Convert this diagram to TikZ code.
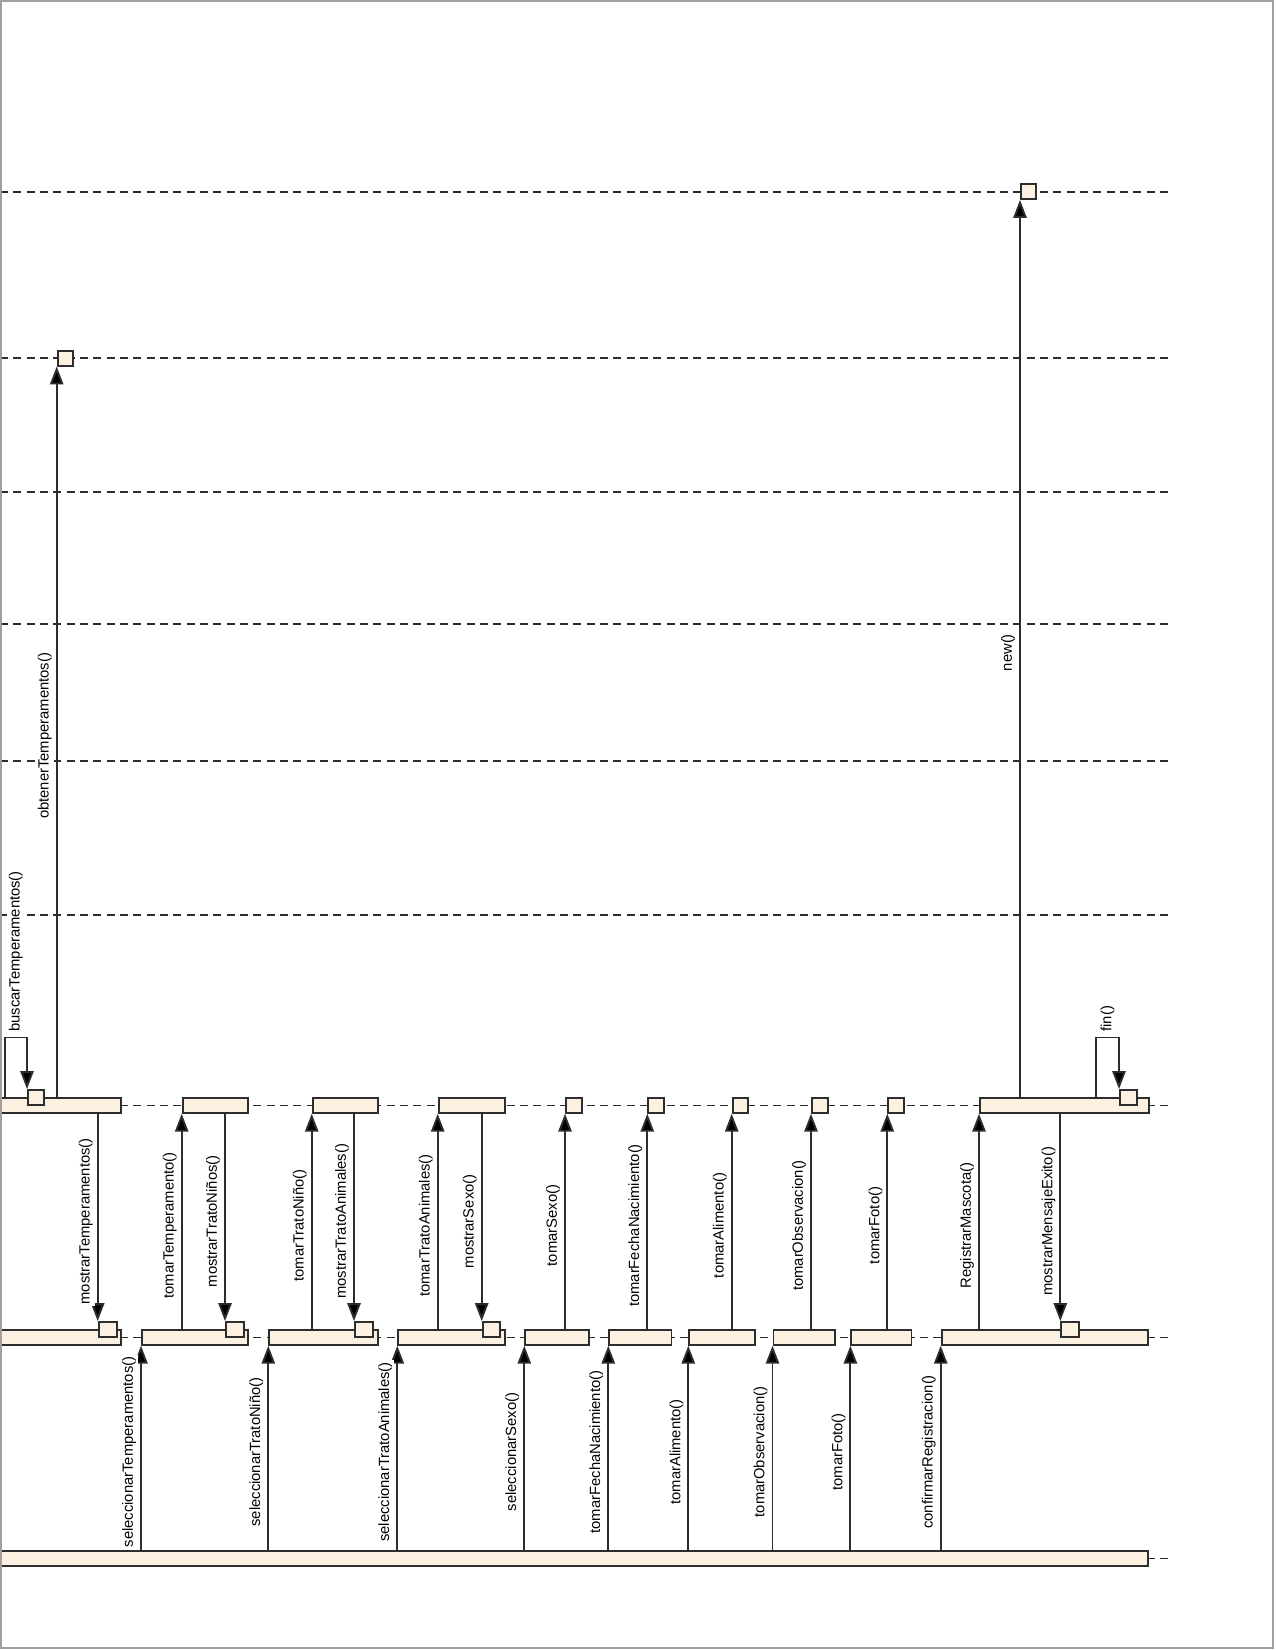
\documentclass[tikz,border=0pt]{standalone}
\usepackage{fontspec}
\setmainfont{Liberation Sans}
\usetikzlibrary{arrows.meta,positioning}
\definecolor{barfill}{RGB}{252,241,224}
\definecolor{ink}{RGB}{45,45,45}
\definecolor{framegray}{RGB}{160,160,160}
\newcommand{\lblfont}{\fontsize{7.1}{8.5}\selectfont}
\tikzset{
  lifeline/.style={draw=ink,line width=0.9pt,dash pattern=on 3.9pt off 2.5pt},
  actbar/.style={draw=ink,fill=barfill,line width=0.9pt,rectangle,inner sep=0pt,minimum height=7pt},
  bw/.style={minimum width=#1*0.48pt},
  msg/.style={draw=ink,line width=0.9pt,-{Triangle[length=8.6pt,width=6.4pt,fill=black]}},
  lbl/.style={yshift=-1.9pt,rotate=90,anchor=south,fill=white,inner sep=1pt,outer sep=1.4pt,font=\lblfont},
  looplbl/.style={rotate=90,anchor=west,fill=white,inner sep=1pt,outer sep=1.9pt,font=\lblfont}
}
\begin{document}
\begin{tikzpicture}[x=0.48pt,y=-0.48pt]
\useasboundingbox (0,0) rectangle (1275,1650);
\begin{scope}
\clip (1,1) rectangle (1273,1648);
% lifelines
\foreach \ly in {191.7,358.3,492,624,760.6,915.3,1105.5,1337.5,1558.5}{
  \draw[lifeline] (0,\ly) -- (1173,\ly);
}
% top objects
\node[actbar,bw=15.3,anchor=west] (newsq) at (1020,191.7) {};
\node[actbar,bw=15.6,anchor=west] (obtsq) at (56.7,358.3) {};
% upper row of activations
\node[actbar,bw=130,anchor=west] (A) at (-10,1105.5) {};
\node[actbar,bw=65.6,anchor=west] (B) at (181.7,1105.5) {};
\node[actbar,bw=65,anchor=west] (C) at (311.7,1105.5) {};
\node[actbar,bw=66.6,anchor=west] (D) at (437.7,1105.5) {};
\node[actbar,bw=15.7,anchor=west] (E) at (565,1105.5) {};
\node[actbar,bw=16,anchor=west] (Fn) at (647.3,1105.5) {};
\node[actbar,bw=15.6,anchor=west] (Al) at (731.7,1105.5) {};
\node[actbar,bw=15.7,anchor=west] (Ob) at (811,1105.5) {};
\node[actbar,bw=16,anchor=west] (Fo) at (887.3,1105.5) {};
\node[actbar,bw=168.7,anchor=west] (F) at (979,1105.5) {};
\node[actbar,bw=16,anchor=south west] (sqA) at (27,1105.5) {};
\node[actbar,bw=16.7,anchor=south west] (sqF) at (1119,1105.5) {};
% middle row of activations
\node[actbar,bw=130,anchor=west] (M1) at (-10,1337.5) {};
\node[actbar,bw=106.3,anchor=west] (M2) at (141,1337.5) {};
\node[actbar,bw=108.4,anchor=west] (M3) at (268.3,1337.5) {};
\node[actbar,bw=106.7,anchor=west] (M4) at (397.3,1337.5) {};
\node[actbar,bw=64,anchor=west] (M5) at (524.3,1337.5) {};
\node[actbar,bw=62.2,anchor=west] (M6) at (608.3,1337.5) {};
\node[actbar,bw=65.9,anchor=west] (M7) at (688.3,1337.5) {};
\node[actbar,bw=61.5,anchor=west] (M8) at (772.5,1337.5) {};
\node[actbar,bw=60.1,anchor=west] (M9) at (850.4,1337.5) {};
\node[actbar,bw=206.6,anchor=west] (M10) at (940.7,1337.5) {};
\node[actbar,bw=18,anchor=south west] (q1) at (97.7,1337.5) {};
\node[actbar,bw=18.3,anchor=south west] (q2) at (225,1337.5) {};
\node[actbar,bw=18.3,anchor=south west] (q3) at (354,1337.5) {};
\node[actbar,bw=17.6,anchor=south west] (q4) at (481.7,1337.5) {};
\node[actbar,bw=18,anchor=south west] (q10) at (1060.3,1337.5) {};
% bottom activation
\node[actbar,bw=1157.3,anchor=west] (bot) at (-10,1558.5) {};

% self calls
\coordinate (lpA) at (4.7,1037.5);
\draw[msg] (lpA |- A.north) -- (lpA) -| (sqA.north west) node[looplbl,pos=0.25]{buscarTemperamentos()};
\coordinate (lpF) at (1096,1037.5);
\draw[msg] (lpF |- F.north) -- (lpF) -| (sqF.north west) node[looplbl,pos=0.25]{fin()};

% long calls
\draw[msg] (obtsq.south west |- A.north) -- (obtsq.south west) node[lbl,midway]{obtenerTemperamentos()};
\draw[msg] (newsq.south west |- F.north) -- (newsq.south west) node[lbl,midway]{new()};

% upper band
\draw[msg] (q1.north west |- A.south) -- (q1.north west) node[lbl,midway]{mostrarTemperamentos()};
\draw[msg] (B.south west |- M2.north) -- (B.south west) node[lbl,midway]{tomarTemperamento()};
\draw[msg] (q2.north west |- B.south) -- (q2.north west) node[lbl,midway]{mostrarTratoNiños()};
\draw[msg] (C.south west |- M3.north) -- (C.south west) node[lbl,midway]{tomarTratoNiño()};
\draw[msg] (q3.north west |- C.south) -- (q3.north west) node[lbl,midway]{mostrarTratoAnimales()};
\draw[msg] (D.south west |- M4.north) -- (D.south west) node[lbl,midway]{tomarTratoAnimales()};
\draw[msg] (q4.north west |- D.south) -- (q4.north west) node[lbl,midway]{mostrarSexo()};
\draw[msg] (E.south west |- M5.north) -- (E.south west) node[lbl,midway]{tomarSexo()};
\draw[msg] (Fn.south west |- M6.north) -- (Fn.south west) node[lbl,midway]{tomarFechaNacimiento()};
\draw[msg] (Al.south west |- M7.north) -- (Al.south west) node[lbl,midway]{tomarAlimento()};
\draw[msg] (Ob.south west |- M8.north) -- (Ob.south west) node[lbl,midway]{tomarObservacion()};
\draw[msg] (Fo.south west |- M9.north) -- (Fo.south west) node[lbl,midway]{tomarFoto()};
\draw[msg] (F.south west |- M10.north) -- (F.south west) node[lbl,midway]{RegistrarMascota()};
\draw[msg] (q10.north west |- F.south) -- (q10.north west) node[lbl,midway]{mostrarMensajeExito()};

% lower band
\draw[msg] (M2.south west |- bot.north) -- (M2.south west) node[lbl,midway]{seleccionarTemperamentos()};
\draw[msg] (M3.south west |- bot.north) -- (M3.south west) node[lbl,midway]{seleccionarTratoNiño()};
\draw[msg] (M4.south west |- bot.north) -- (M4.south west) node[lbl,midway]{seleccionarTratoAnimales()};
\draw[msg] (M5.south west |- bot.north) -- (M5.south west) node[lbl,midway]{seleccionarSexo()};
\draw[msg] (M6.south west |- bot.north) -- (M6.south west) node[lbl,midway]{tomarFechaNacimiento()};
\draw[msg] (M7.south west |- bot.north) -- (M7.south west) node[lbl,midway]{tomarAlimento()};
\draw[msg] (M8.south west |- bot.north) -- (M8.south west) node[lbl,midway]{tomarObservacion()};
\draw[msg] (M9.south west |- bot.north) -- (M9.south west) node[lbl,midway]{tomarFoto()};
\draw[msg] (M10.south west |- bot.north) -- (M10.south west) node[lbl,midway]{confirmarRegistracion()};
\end{scope}
\draw[framegray,line width=0.6pt] (1,1) rectangle (1273,1648);
\end{tikzpicture}
\end{document}
